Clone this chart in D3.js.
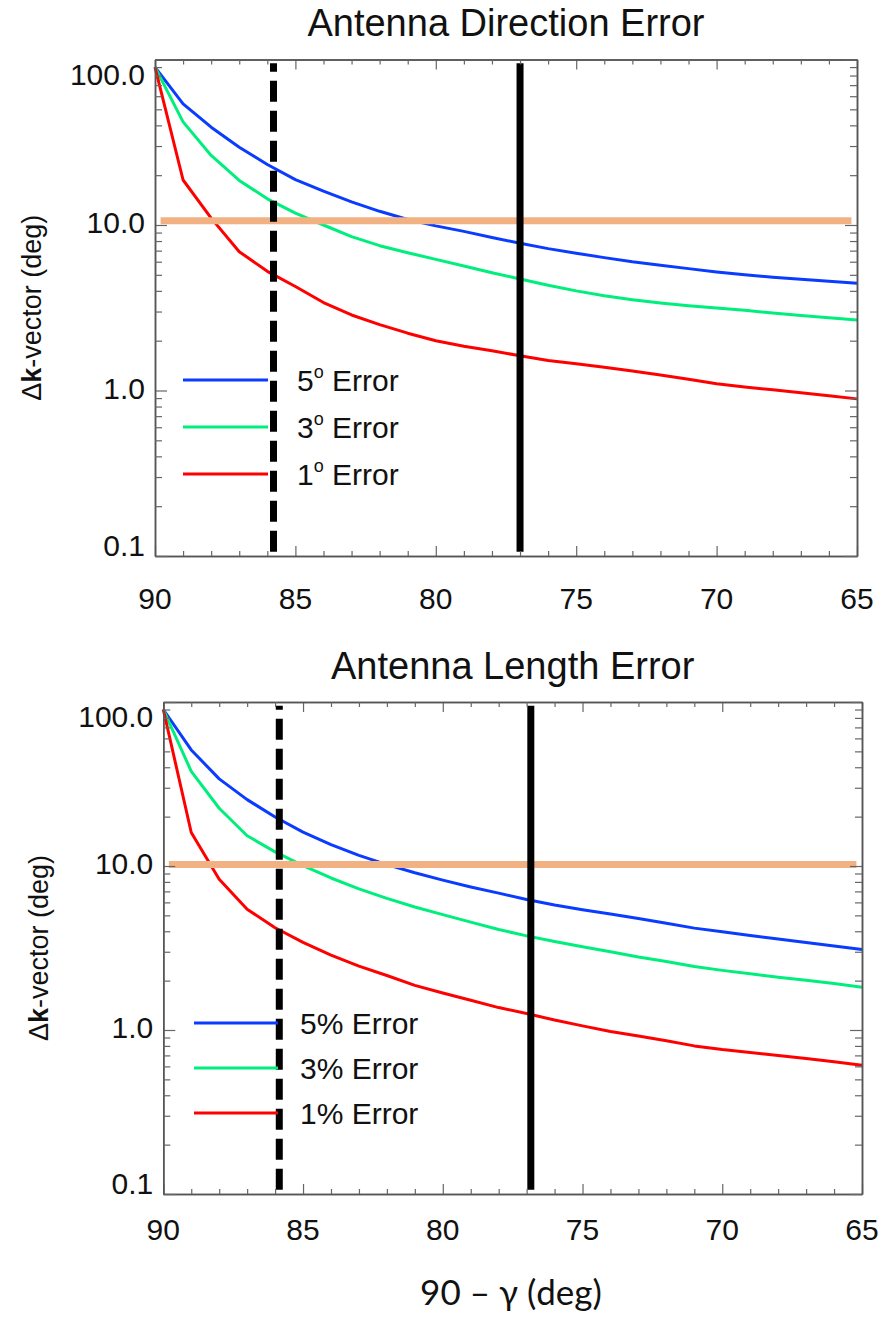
<!DOCTYPE html>
<html><head><meta charset="utf-8">
<script src="https://cdn.jsdelivr.net/npm/d3@7"></script>
<style>
body{margin:0;background:#fff;}
svg{display:block;}
text{font-family:"Liberation Sans",Arial,Helvetica,sans-serif;fill:#111;}
</style>
</head><body>
<svg id="c" width="880" height="1317"></svg>
<script>
// ---------- data ----------
const angles = [90,89,88,87,86,85,84,83,82,81,80,79,78,77,76,75,74,73,72,71,70,69,68,67,66,65];

const dirErr5 = [90,54,39,29.5,23.2,18.8,16.0,13.8,12.1,10.8,9.88,9.15,8.4,7.75,7.2,6.75,6.35,6.0,5.72,5.45,5.2,5.0,4.83,4.7,4.57,4.45];
const dirErr3 = [90,42,26.3,18.6,14.4,11.8,10.0,8.5,7.5,6.8,6.2,5.65,5.15,4.72,4.33,4.0,3.74,3.54,3.38,3.25,3.15,3.05,2.94,2.84,2.75,2.67];
const dirErr1 = [90,18.7,11.0,6.9,5.25,4.25,3.4,2.86,2.5,2.22,2.0,1.85,1.74,1.62,1.52,1.45,1.38,1.31,1.24,1.17,1.10,1.05,1.01,0.97,0.93,0.89];

const lenErr5 = [90,51,34,25.4,19.9,16.1,13.5,11.6,10.2,9.1,8.2,7.45,6.83,6.25,5.78,5.41,5.1,4.79,4.48,4.18,3.97,3.77,3.59,3.42,3.25,3.1];
const lenErr3 = [90,37.8,22.5,15.3,12.2,10.05,8.45,7.25,6.35,5.62,5.05,4.55,4.1,3.75,3.46,3.22,3.0,2.79,2.62,2.44,2.31,2.2,2.1,2.01,1.92,1.82];
const lenErr1 = [90,16,8.3,5.45,4.2,3.42,2.86,2.45,2.15,1.87,1.68,1.52,1.37,1.26,1.15,1.06,0.98,0.92,0.86,0.8,0.76,0.73,0.7,0.67,0.64,0.61];

const seriesColors = ["#0a3cff","#00ee7c","#ff0000"];
const dirLegend = ["5","3","1"];          // degrees
const lenLegend = ["5% Error","3% Error","1% Error"];

const xMajorTicks = [90,85,80,75,70,65];
const xTickLabels = ["90","85","80","75","70","65"];
const xMinorTicks = [89,88,87,86,84,83,82,81,79,78,77,76,74,73,72,71,69,68,67,66];
const yMajorTicks = [100,10,1,0.1];
const yTickLabels = ["100.0","10.0","1.0","0.1"];
const yMinorTicks = [0.2,0.3,0.4,0.5,0.6,0.7,0.8,0.9,2,3,4,5,6,7,8,9,20,30,40,50,60,70,80,90];

const dirThreshold = 10.6, lenThreshold = 10.2;
const thresholdSpan = [89.8, 65.2];
const dirMarkers = [85.78, 77.0];   // dashed, solid
const lenMarkers = [85.85, 76.85];
const markerSpan = [0.106, 95];

const titles = ["Antenna Direction Error","Antenna Length Error"];
const xTitle = "90 \u2013 \u03b3 (deg)";

// ---------- drawing ----------
const svg = d3.select("#c");

function drawPanel(cfg) {
  const x = d3.scaleLinear().domain([90,65]).range([cfg.left,cfg.right]);
  const y = d3.scaleLog().domain([0.1,100]).range([cfg.bottom,cfg.top]);
  const g = svg.append("g");

  // curves
  const line = d3.line().x((d,i)=>x(angles[i])).y(d=>y(d));
  cfg.series.forEach((s,i)=>{
    g.append("path").datum(s).attr("d",line)
      .attr("fill","none").attr("stroke",seriesColors[i]).attr("stroke-width",3)
      .attr("stroke-linejoin","round");
  });

  // threshold line
  g.append("line")
    .attr("x1",x(thresholdSpan[0])).attr("x2",x(thresholdSpan[1]))
    .attr("y1",y(cfg.threshold)).attr("y2",y(cfg.threshold))
    .attr("stroke","#f2b183").attr("stroke-width",7);

  // marker lines
  cfg.markers.forEach((m,i)=>{
    g.append("line")
      .attr("x1",x(m)).attr("x2",x(m))
      .attr("y1",y(markerSpan[0])).attr("y2",y(markerSpan[1]))
      .attr("stroke","#000").attr("stroke-width",7)
      .attr("stroke-dasharray", i===0 ? "21,9" : null);
  });

  // legend
  cfg.legendYs.forEach((ly,i)=>{
    g.append("line").attr("x1",cfg.legX0).attr("x2",cfg.legX1)
      .attr("y1",ly).attr("y2",ly)
      .attr("stroke",seriesColors[i]).attr("stroke-width",3);
    const t = g.append("text").attr("x",cfg.legTx).attr("y",ly+11)
      .attr("font-size",30);
    if (cfg.degrees) {
      t.append("tspan").text(dirLegend[i]);
      t.append("tspan").text("o").attr("font-size",18).attr("dy",-13);
      t.append("tspan").text(" Error").attr("dy",13);
    } else {
      t.text(lenLegend[i]);
    }
  });

  // axes (ticks inward on all sides)
  const styleAx = sel => { sel.select(".domain").attr("stroke","#555").attr("stroke-width",1.5);
                           sel.selectAll(".tick line").attr("stroke","#666").attr("stroke-width",1.2); };
  g.append("g").attr("transform",`translate(0,${cfg.bottom})`)
    .call(d3.axisBottom(x).tickValues(xMajorTicks).tickSize(-10).tickSizeOuter(0).tickFormat("")).call(styleAx);
  g.append("g").attr("transform",`translate(0,${cfg.bottom})`)
    .call(d3.axisBottom(x).tickValues(xMinorTicks).tickSize(-5).tickSizeOuter(0).tickFormat("")).call(styleAx);
  g.append("g").attr("transform",`translate(0,${cfg.top})`)
    .call(d3.axisTop(x).tickValues(xMajorTicks).tickSize(-10).tickSizeOuter(0).tickFormat("")).call(styleAx);
  g.append("g").attr("transform",`translate(0,${cfg.top})`)
    .call(d3.axisTop(x).tickValues(xMinorTicks).tickSize(-5).tickSizeOuter(0).tickFormat("")).call(styleAx);
  g.append("g").attr("transform",`translate(${cfg.left},0)`)
    .call(d3.axisLeft(y).tickValues(yMajorTicks).tickSize(-12).tickSizeOuter(0).tickFormat("")).call(styleAx);
  g.append("g").attr("transform",`translate(${cfg.left},0)`)
    .call(d3.axisLeft(y).tickValues(yMinorTicks).tickSize(-7).tickSizeOuter(0).tickFormat("")).call(styleAx);
  g.append("g").attr("transform",`translate(${cfg.right},0)`)
    .call(d3.axisRight(y).tickValues(yMajorTicks).tickSize(-12).tickSizeOuter(0).tickFormat("")).call(styleAx);
  g.append("g").attr("transform",`translate(${cfg.right},0)`)
    .call(d3.axisRight(y).tickValues(yMinorTicks).tickSize(-7).tickSizeOuter(0).tickFormat("")).call(styleAx);

  // x tick labels
  g.selectAll(".xl").data(xMajorTicks).enter().append("text")
    .attr("x",d=>x(d)).attr("y",cfg.xLabelBase)
    .attr("text-anchor","middle").attr("font-size",30)
    .text((d,i)=>xTickLabels[i]);

  // y tick labels
  const yOff = v => v===100 ? 25 : (v===0.1 ? 0 : 8);
  g.selectAll(".yl").data(yMajorTicks).enter().append("text")
    .attr("x",cfg.left-10).attr("y",d=>y(d)+yOff(d))
    .attr("text-anchor","end").attr("font-size",30)
    .text((d,i)=>yTickLabels[i]);

  // y title
  const yt = g.append("text")
    .attr("transform",`translate(${cfg.yTitleX},${(cfg.top+cfg.bottom)/2}) rotate(-90)`)
    .attr("text-anchor","middle").attr("font-size",27);
  yt.append("tspan").text("\u0394");
  yt.append("tspan").text("k").attr("font-weight","bold");
  yt.append("tspan").text("-vector (deg)");

  // title
  g.append("text").attr("x",(cfg.left+cfg.right)/2).attr("y",cfg.titleBase)
    .attr("text-anchor","middle").attr("font-size",38).text(cfg.title);
}

drawPanel({left:155,right:857,top:59.5,bottom:556,series:[dirErr5,dirErr3,dirErr1],
  threshold:dirThreshold, markers:dirMarkers, legendYs:[380,427,474], legX0:183, legX1:268, legTx:297,
  degrees:true, xLabelBase:609, yTitleX:41, titleBase:36, title:titles[0]});

drawPanel({left:163.3,right:862,top:702,bottom:1194,series:[lenErr5,lenErr3,lenErr1],
  threshold:lenThreshold, markers:lenMarkers, legendYs:[1023,1068,1113], legX0:194, legX1:278, legTx:300,
  degrees:false, xLabelBase:1240, yTitleX:48, titleBase:679, title:titles[1]});

svg.append("text").attr("x",511).attr("y",1305).attr("text-anchor","middle")
  .attr("font-size",35).style("font-family","Lato,'Open Sans',sans-serif").text(xTitle);
</script>
</body></html>
